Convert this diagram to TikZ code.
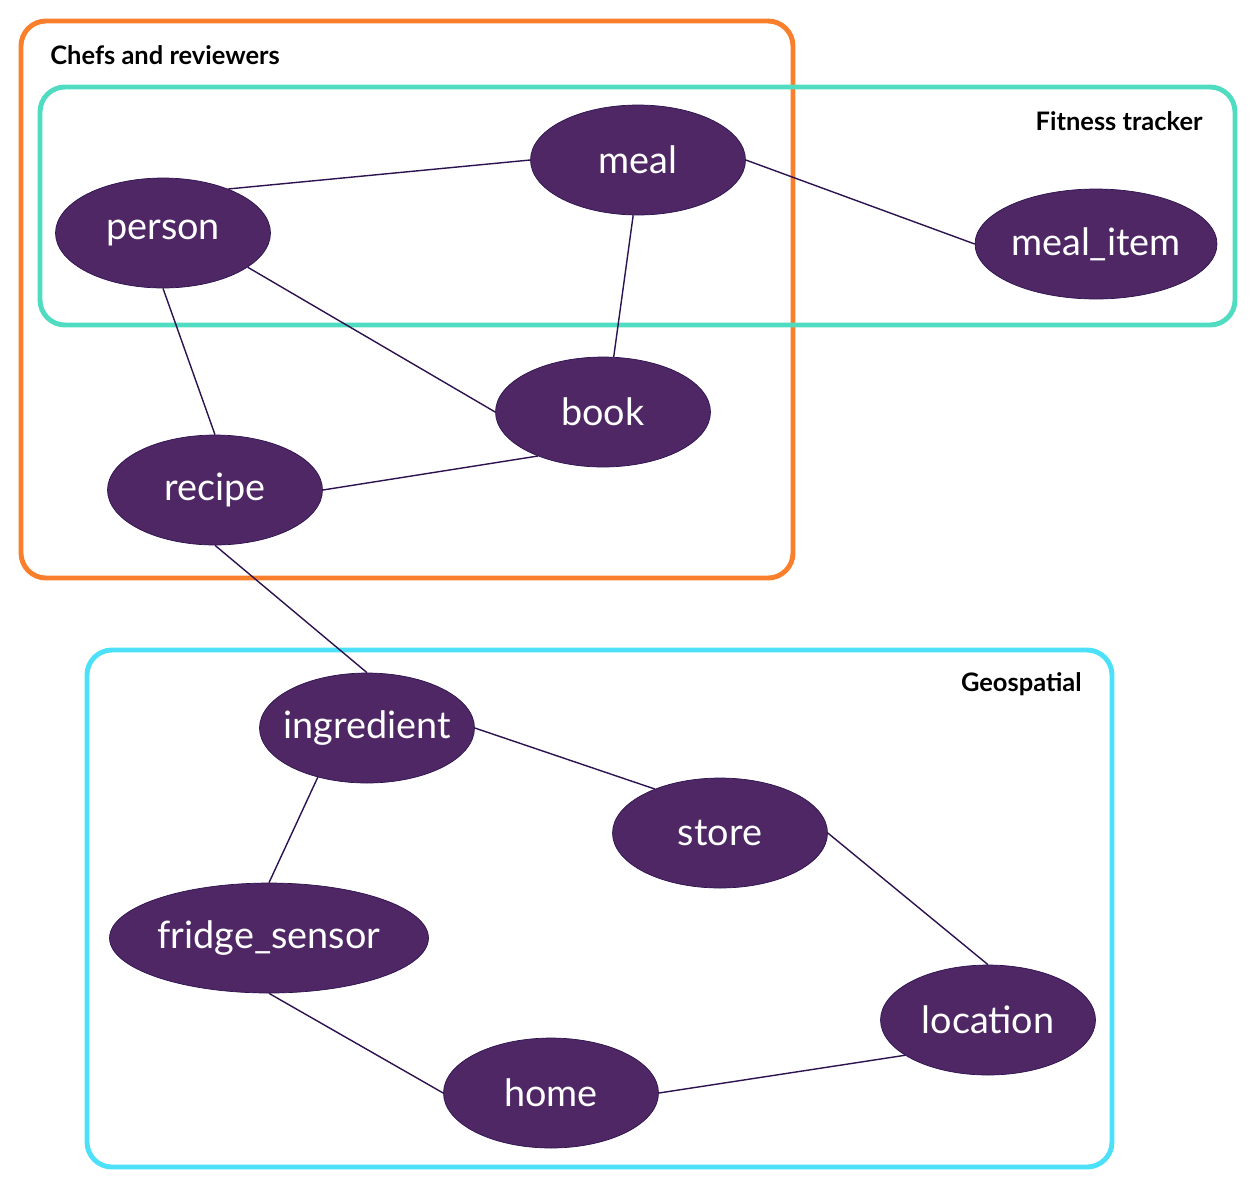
\documentclass[tikz,border=0pt]{standalone}
\usepackage{fontspec}
\setmainfont{Lato}
\usetikzlibrary{shapes.geometric}

\definecolor{entity}{HTML}{4F2765}
\definecolor{edgeline}{HTML}{2D1250}
\definecolor{chefs}{HTML}{FA7F2C}
\definecolor{fitness}{HTML}{50DCC0}
\definecolor{geo}{HTML}{4DE1F9}

\tikzset{
    entity/.style={ellipse, fill=entity, draw=edgeline, line width=0.4pt, text=white,
        inner sep=0pt, minimum width=4.3cm, minimum height=2.2cm, font=\fontsize{21.5}{24}\selectfont},
    rel/.style={draw=edgeline, line width=0.8pt},
    group/.style={line width=2.8pt, rounded corners=0.5cm},
    grouplabel/.style={font=\bfseries\fontsize{14.5}{16}\selectfont, inner sep=0pt}
}

\begin{document}
\begin{tikzpicture}[x=0.02cm,y=-0.02cm]
    \useasboundingbox (0,0) rectangle (1256,1191);

    % groups
    \draw[group, chefs]   (21,21)  rectangle (793,578);
    \draw[group, fitness] (40,87)  rectangle (1235,325);
    \draw[group, geo]     (87,650) rectangle (1112,1167);
    \node[grouplabel, anchor=west] (chefs-label)   at (50,55)    {Chefs and reviewers};
    \node[grouplabel, anchor=east] (fitness-label) at (1203,121) {Fitness tracker};
    \node[grouplabel, anchor=east] (geo-label)     at (1082,684) {Geospatial};

    % entities
    \node[entity] at (638,160)  (meal)      {meal};
    \node[entity] at (163,233)  (person)    {person};
    \node[entity, minimum width=4.84cm] at (1096,244) (meal_item) {meal\_item};
    \node[entity] at (603,412)  (book)      {book};
    \node[entity] at (215,490)  (recipe)    {recipe};
    \node[entity] at (367,728)  (ingredient) {\makebox[0pt]{ingredient}};
    \node[entity] at (720,833)  (store)     {store};
    \node[entity, minimum width=6.38cm] at (269,938) (fridge_sensor) {\makebox[0pt]{fridge\_sensor}};
    \node[entity] at (988,1020) (location)  {\makebox[0pt]{location}};
    \node[entity] at (551,1093) (home)      {home};

    % relations
    \draw[rel] (person.34) -- (meal.west);
    \draw[rel] (person.-22) -- (book.west);
    \draw[rel] (person.south) -- (recipe.north);
    \draw[rel] (meal.-95) -- (book.79);
    \draw[rel] (meal.east) -- (meal_item.west);
    \draw[rel] (recipe.east) -- (book.214);
    \draw[rel] (recipe.south) -- (ingredient.north);
    \draw[rel] (ingredient.east) -- (store.146);
    \draw[rel] (ingredient.225) -- (fridge_sensor.north);
    \draw[rel] (store.east) -- (location.north);
    \draw[rel] (fridge_sensor.south) -- (home.west);
    \draw[rel] (home.east) -- (location.203);
\end{tikzpicture}
\end{document}
